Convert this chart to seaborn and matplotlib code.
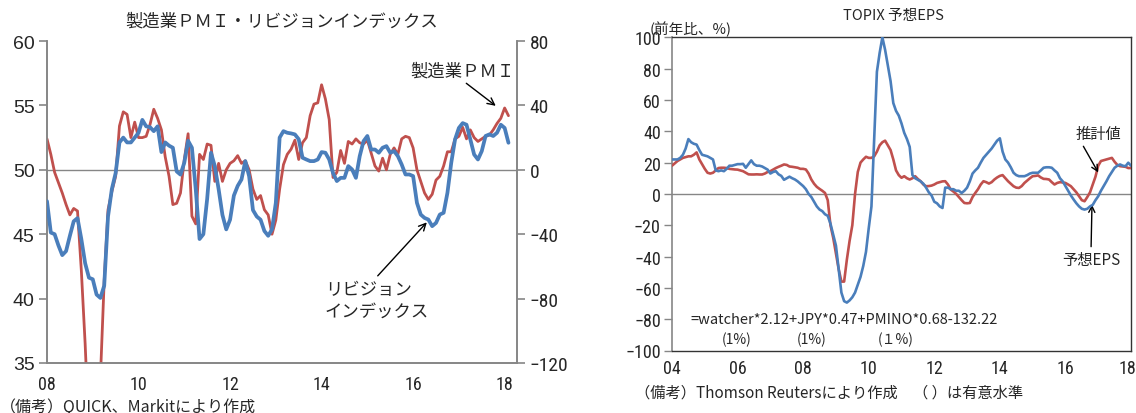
import numpy as np
import pandas as pd
import matplotlib
matplotlib.use("Agg")
import matplotlib.pyplot as plt
import matplotlib.transforms as mtransforms
import seaborn as sns
from matplotlib import font_manager

# ---- data -------------------------------------------------------------
# Manufacturing PMI (left chart, left axis), monthly from Jan 2008
pmi = [52.4, 51.2, 49.8, 49.0, 48.2, 47.3, 46.5, 47.0, 46.8, 42.2, 36.5, 29.6,
       29.6, 31.0, 33.8, 41.4, 46.9, 48.3, 49.5, 53.4, 54.5, 54.3, 52.5, 53.7,
       52.5, 52.5, 52.6, 53.5, 54.7, 54.0, 53.1, 51.0, 49.5, 47.3, 47.4, 48.2,
       50.8, 52.8, 46.4, 45.8, 51.2, 50.8, 52.0, 51.9, 49.1, 50.5, 49.1, 50.0,
       50.5, 50.7, 51.1, 50.5, 50.7, 50.0, 48.5, 47.7, 48.0, 46.9, 46.5, 45.0,
       46.1, 48.5, 50.4, 51.2, 51.6, 52.3, 50.8, 52.1, 52.5, 54.2, 55.1, 55.2,
       56.6, 55.5, 53.9, 49.4, 49.8, 51.5, 50.5, 52.2, 52.0, 52.4, 52.1, 52.0,
       52.3, 51.3, 50.3, 49.9, 50.9, 50.0, 51.2, 51.7, 51.2, 52.4, 52.6, 52.5,
       51.7, 50.0, 49.1, 48.2, 47.7, 48.1, 49.2, 49.5, 50.3, 51.4, 51.4, 52.4,
       52.6, 53.3, 52.4, 53.1, 52.5, 52.2, 52.4, 52.6, 52.7, 53.1, 53.6, 54.0,
       54.8, 54.2]

# Earnings revision index (left chart, right axis)
revision = [-19.5, -39, -40, -47, -53, -50.5, -41, -32, -30, -43, -58, -67,
            -68, -77.5, -79.6, -72, -29, -12, -2, 17, 20, 17, 17, 20,
            23, 31, 27, 26.5, 24, 27, 11, 17, 15, 13.7, -1, -3,
            4.4, 18, 13.7, -12, -43, -40, -18, 10.6, 2.3, -12, -28, -37,
            -31, -16, -10, -6, 5.4, -4, -25, -29, -31, -38, -41, -37,
            -20.5, 20, 24, 23, 22.6, 22, 19, 7.5, 6.4, 5.4, 5.4, 6.4,
            11, 10.6, 6.4, -2, -7, -5, -5, 2.3, 0.2, -5, 8.5, 17.8,
            21, 12.6, 12.6, 10.6, 13.7, 14.7, 10.6, 11.6, 8.5, 3.3, -2.9, -2.9,
            -3.9, -20.5, -27.8, -29.9, -30.9, -35, -33, -27.8, -26.7, -14.3, 4.4, 18.9,
            26, 29, 28, 18.9, 9.5, 6.4, 11.6, 21, 22, 21, 23, 28,
            26, 16.8]

# TOPIX forecast EPS, y/y % (right chart), monthly from Jan 2004
eps_forecast = [22, 22, 22, 23, 25, 29, 35, 33, 32, 31.5, 28, 25,
                24.5, 24, 23, 22, 15, 14.5, 15, 14.5, 16, 18, 18, 18.5,
                19, 19, 19.2, 16.7, 19, 21.4, 19, 18, 18, 17.5, 16.5, 15.5,
                13, 14, 14.5, 12.5, 11.5, 9, 10, 11, 10, 9.2, 8, 6.5,
                5, 3, 0, -2, -5, -8, -10, -11, -13, -14, -19, -26,
                -33, -48, -63, -68.5, -69.4, -68, -66, -63, -58, -53, -46, -37,
                -22, -8, 35, 78, 90, 100, 92, 82, 72, 58, 53, 50,
                45, 39, 35, 30, 12, 10, 9, 8, 6.5, 4, 1, -1,
                -5, -6, -8, -9, 4, 4, 3, 3, 2, 2, 0.6, 2,
                4, 8, 13, 15, 16.7, 20, 23, 25, 27, 29, 31.5, 34,
                35.5, 27, 22, 20, 17, 13.5, 12, 11.3, 11.3, 11.3, 12, 13,
                13.5, 13.5, 13.5, 15, 16.7, 17, 17, 16.7, 15, 13.5, 10, 8,
                5, 2, -1, -3.6, -6, -8, -9.5, -10, -9.5, -8, -7, -4,
                -1.5, 2, 5, 8, 11.3, 14, 16.7, 18, 18.8, 18, 17.7, 19.9,
                18]

# Model estimate (right chart)
eps_estimate = [18, 19.5, 21, 22, 23, 23.5, 24, 24, 25, 26.5, 22, 19,
                16, 13.5, 13, 13.5, 15, 16.5, 16.7, 16.7, 16.5, 16, 15.8, 15.6,
                15.5, 15, 14.5, 13.5, 12.5, 12.4, 12.4, 12.5, 12.4, 12.4, 13, 14,
                14.5, 15.5, 16.5, 17.3, 18, 18.8, 18.5, 17.5, 17.3, 17, 16.7, 16,
                16, 15.6, 13, 9.2, 6.5, 4.5, 3.2, 2, 0.6, -4, -20, -28,
                -38, -48, -56, -56, -42, -30, -20, 0, 14, 20, 22, 23.7,
                23, 23, 24, 27, 31, 33, 34, 31, 28, 22, 15, 12,
                10.3, 11.3, 10, 9.2, 10, 11.3, 9.5, 8.1, 6, 4.9, 5, 5.3,
                6, 7, 7.5, 8, 8.1, 6, 2.8, 1.5, 0, -2, -4, -5.8,
                -6, -5.8, -2, 0.6, 3, 6, 8.1, 7.5, 6.6, 7.5, 9.2, 10.5,
                11.5, 12, 10, 8.1, 6.5, 4.9, 4, 3.8, 5, 7, 8.5, 10,
                11.3, 11.5, 11.8, 10.5, 9.6, 9.5, 9.2, 7.5, 6, 7, 7.5, 7.3,
                7, 6, 4.9, 3, 1, -1.5, -4, -4.7, -2, 1, 6, 11,
                18, 21, 21.5, 22, 22.5, 23, 20.5, 18.5, 17.7, 17.5, 17.3, 16.5,
                16.5]

left_xticks = [2008, 2010, 2012, 2014, 2016, 2018]
left_xticklabels = ["08", "10", "12", "14", "16", "18"]
right_xticks = [2004, 2006, 2008, 2010, 2012, 2014, 2016, 2018]
right_xticklabels = ["04", "06", "08", "10", "12", "14", "16", "18"]

# ---- style ------------------------------------------------------------
sns.set_theme(style="white")


def pick(*names):
    avail = {f.name for f in font_manager.fontManager.ttflist}
    for n in names:
        if n in avail:
            return n
    return "DejaVu Sans"


JP = "Noto Sans CJK JP"
ARIAL = pick("Liberation Sans", "Arimo")
NARROW = pick("Liberation Sans Narrow", "DejaVu Sans Condensed", "Roboto Condensed", "Liberation Sans")
plt.rcParams["font.family"] = [JP, "DejaVu Sans"]
plt.rcParams["axes.unicode_minus"] = True

RED = "#C0504D"
BLUE = "#4A7EBB"
GRAY = "#868686"

fig = plt.figure(figsize=(11.36, 4.14), dpi=100)

# ---- left chart: PMI and revision index -------------------------------
axL = fig.add_axes([47 / 1136, 1 - 364 / 414, 470 / 1136, 322 / 414])
axR = axL.twinx()

t_left = 2008 + np.arange(len(pmi)) / 12
df_left = pd.DataFrame({"t": t_left, "pmi": pmi, "rev": revision})

axL.axhline(50, color=GRAY, lw=1.0, zorder=1)
sns.lineplot(data=df_left, x="t", y="pmi", ax=axL, color=RED, lw=2.0, zorder=3)
sns.lineplot(data=df_left, x="t", y="rev", ax=axR, color=BLUE, lw=2.7, zorder=3)

axL.set_xlim(2008, 2018.27)
axL.set_ylim(35, 60)
axR.set_ylim(-120, 80)
axL.set_yticks([35, 40, 45, 50, 55, 60])
axR.set_yticks([-120, -80, -40, 0, 40, 80])
axL.set_xticks(left_xticks)
axL.set_xticklabels(left_xticklabels)
for a in (axL, axR):
    a.set_xlabel("")
    a.set_ylabel("")
    a.spines["top"].set_visible(False)
    for s in ("left", "right", "bottom"):
        a.spines[s].set_color(GRAY)
        a.spines[s].set_linewidth(1.2)
axL.tick_params(axis="y", direction="out", length=6, width=1.2, color=GRAY, pad=3,
                labelsize=14, left=True)
axR.tick_params(axis="y", direction="out", length=6, width=1.2, color=GRAY, pad=3,
                labelsize=14, right=True)
axL.tick_params(axis="x", length=0, pad=9, labelsize=13)
for lab in axL.get_yticklabels():
    lab.set_fontfamily(ARIAL)
for lab in axR.get_yticklabels() + axL.get_xticklabels():
    lab.set_fontfamily(NARROW)

fig.text(282 / 1136, 1 - 22 / 414, "製造業ＰＭＩ・リビジョンインデックス",
         ha="center", va="center", fontsize=12.5)

axL.annotate("製造業ＰＭＩ", xy=(2017.83, 54.9), xytext=(2017.08, 57.67),
             ha="center", va="center", fontsize=12.5,
             arrowprops=dict(arrowstyle="->", color="black", lw=1.0,
                             relpos=(0.45, 0.2), shrinkA=0, shrinkB=1))
axL.annotate("リビジョン\nインデックス", xy=(2016.32, 46.0), xytext=(2014.07, 39.9),
             ha="left", va="center", fontsize=12.5, linespacing=1.25,
             arrowprops=dict(arrowstyle="->", color="black", lw=1.0,
                             relpos=(0.47, 1.0), shrinkA=1, shrinkB=1))

fig.text(0, 1 - 407 / 414, "（備考）QUICK、Markitにより作成",
         ha="left", va="center", fontsize=11.5)

# ---- right chart: TOPIX forecast EPS ----------------------------------
ax2 = fig.add_axes([672 / 1136, 1 - 351.5 / 414, 459 / 1136, 313.2 / 414])
n = len(eps_forecast)
df_right = pd.DataFrame({
    "t": 2004 + np.arange(n) / 12,
    "forecast": eps_forecast,
    "estimate": eps_estimate,
})
ax2.axhline(0, color=GRAY, lw=1.0, zorder=1)
sns.lineplot(data=df_right, x="t", y="estimate", ax=ax2, color=RED, lw=1.9, zorder=3)
sns.lineplot(data=df_right, x="t", y="forecast", ax=ax2, color=BLUE, lw=1.9, zorder=4)
ax2.set_xlim(2004, 2018)
ax2.set_ylim(-100, 100)
ax2.set_yticks(np.arange(-100, 101, 20))
ax2.set_xticks(right_xticks)
ax2.set_xticklabels(right_xticklabels)
ax2.set_xlabel("")
ax2.set_ylabel("")
for s in ("top", "right", "bottom"):
    ax2.spines[s].set_color("#333333")
    ax2.spines[s].set_linewidth(1.0)
ax2.spines["left"].set_color(GRAY)
ax2.spines["left"].set_linewidth(1.2)
ax2.tick_params(axis="y", direction="out", length=6, width=1.0, color=GRAY, pad=2,
                labelsize=13, left=True)
ax2.tick_params(axis="x", length=0, pad=6, labelsize=13)
for lab in ax2.get_yticklabels() + ax2.get_xticklabels():
    lab.set_fontfamily(NARROW)
# keep the final year label inside the canvas
last = ax2.get_xticklabels()[-1]
last.set_transform(last.get_transform() +
                   mtransforms.ScaledTranslation(-4 / 100, 0, fig.dpi_scale_trans))

fig.text(893 / 1136, 1 - 16 / 414, "TOPIX 予想EPS", ha="center", va="center",
         fontsize=10.5)
fig.text(650 / 1136, 1 - 29 / 414, "(前年比、%)", ha="left", va="center",
         fontsize=10.5)

ax2.text(2004.55, -80, "=watcher*2.12+JPY*0.47+PMINO*0.68-132.22",
         ha="left", va="center", fontsize=10.5)
for xpos, lab in zip([2005.97, 2008.27, 2010.82], ["(1%)", "(1%)", "(１%)"]):
    ax2.text(xpos, -92.8, lab, ha="center", va="center", fontsize=10)

ax2.annotate("推計値", xy=(2017.0, 13.7), xytext=(2017.0, 38.7),
             ha="center", va="center", fontsize=11,
             arrowprops=dict(arrowstyle="->", color="black", lw=1.0,
                             relpos=(0.12, 0.0), shrinkA=1, shrinkB=0))
ax2.annotate("予想EPS", xy=(2016.81, -6.9), xytext=(2016.78, -42.1),
             ha="center", va="center", fontsize=11,
             arrowprops=dict(arrowstyle="->", color="black", lw=1.0,
                             relpos=(0.5, 1.0), shrinkA=1, shrinkB=0))

fig.text(635 / 1136, 1 - 393 / 414, "（備考）Thomson Reutersにより作成　（ ）は有意水準",
         ha="left", va="center", fontsize=11)

fig.savefig("out.png", dpi=100)
